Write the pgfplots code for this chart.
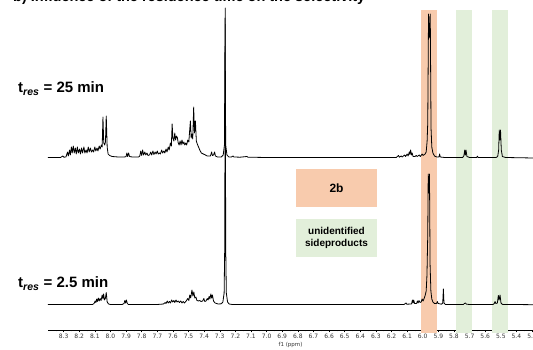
\documentclass[border=0pt]{standalone}
\usepackage{fontspec}
\setmainfont{Liberation Sans}
\newfontfamily\tickfont{DejaVu Sans}
\usepackage{pgfplots}
\pgfplotsset{compat=1.18}
\definecolor{bandor}{HTML}{F8CBAD}
\definecolor{bandgr}{HTML}{E2EFDA}
\begin{document}
\begin{tikzpicture}
% bottom spectrum axis (tres = 2.5 min) with the ppm axis
\begin{axis}[
  at={(290.5pt,180pt)}, anchor=center,
  scale only axis, width=485pt, height=320pt,
  xmin=5.294, xmax=8.40, ymin=-25, ymax=295,
  x dir=reverse,
  axis x line=bottom, axis y line=none,
  axis line style={-, line width=0.6pt},
  clip=false,
  xtick={5.3,5.4,5.5,5.6,5.7,5.8,5.9,6.0,6.1,6.2,6.3,6.4,6.5,6.6,6.7,6.8,6.9,7.0,7.1,7.2,7.3,7.4,7.5,7.6,7.7,7.8,7.9,8.0,8.1,8.2,8.3},
  minor xtick={5.35,5.45,5.55,5.65,5.75,5.85,5.95,6.05,6.15,6.25,6.35,6.45,6.55,6.65,6.75,6.85,6.95,7.05,7.15,7.25,7.35,7.45,7.55,7.65,7.75,7.85,7.95,8.05,8.15,8.25,8.35},
  tick align=outside,
  major tick length=2.5pt, minor tick length=1.5pt,
  tick style={line width=0.5pt, black},
  xticklabel={\pgfmathprintnumber[fixed,fixed zerofill,precision=1,assume math mode=true]{\tick}},
  xticklabel style={font=\tickfont\fontsize{6}{7}\selectfont, text=black!80, inner sep=1.5pt},
  xlabel={f1 (ppm)},
  xlabel style={font=\tickfont\fontsize{5.5}{6}\selectfont, text=black!80, inner sep=0pt, yshift=-2pt},
]
\addplot[fill=bandor, draw=none] coordinates {(6.011,-28) (5.911,-28) (5.911,295) (6.011,295)} -- cycle;
\addplot[fill=bandgr, draw=none] coordinates {(5.785,-28) (5.685,-28) (5.685,295) (5.785,295)} -- cycle;
\addplot[fill=bandgr, draw=none] coordinates {(5.555,-28) (5.455,-28) (5.455,295) (5.555,295)} -- cycle;
\addplot[black, line width=0.8pt, line join=round, mark=none] coordinates {
(8.40,0.5)(8.30,0.5)(8.115,0.5)(8.105,1.5)(8.098,4)(8.093,2.5)(8.088,6)(8.083,3.5)(8.078,7)(8.072,4)(8.066,6.5)(8.060,4.5)(8.053,10)(8.048,6)(8.044,11)(8.038,5)(8.032,7)(8.027,12.5)(8.021,3)(8.012,1)(8.00,0.5)
(7.925,0.5)(7.913,1.5)(7.908,4.5)(7.903,2)(7.898,5)(7.892,1.5)(7.885,0.5)(7.70,0.5)(7.66,1)(7.650,2.5)(7.644,1.5)(7.636,4)(7.630,2)(7.622,3.5)(7.616,2)(7.608,5)(7.602,3)(7.594,4.5)(7.588,2.5)(7.580,5)(7.574,3)(7.566,4)(7.558,2.5)(7.550,4)(7.542,2)(7.534,3.5)(7.526,2)(7.515,4)(7.505,6.5)(7.498,4.5)(7.492,10)(7.486,7)(7.478,15)(7.472,9)(7.466,13)(7.460,7)(7.453,8)(7.446,4.5)(7.436,4)(7.428,4.5)(7.420,3.5)(7.410,4)(7.402,6.5)(7.396,3.5)(7.388,4)(7.380,6.5)(7.375,5)(7.368,8.5)(7.363,6)(7.357,11)(7.352,7)(7.347,10)(7.340,4)(7.330,2)(7.31,1)(7.29,1.2)
(7.280,3)(7.272,12)(7.268,60)(7.265,297)(7.262,60)(7.258,12)(7.250,3)(7.24,1)(7.22,0.5)(7.00,0.5)(6.12,0.5)(6.107,2)(6.102,0.8)(6.072,1)(6.066,5)(6.062,2)(6.058,5)(6.052,1.5)(6.040,1.5)(6.034,4)(6.030,2)(6.024,4.5)(6.018,2.5)(6.010,3)(6.004,6)(5.998,4)(5.990,7)(5.984,10)(5.978,14)(5.973,30)(5.968,70)(5.965,131)(5.961,112)(5.957,131)(5.953,40)(5.948,14)(5.942,6)(5.935,3)(5.925,1.5)(5.912,1.5)(5.907,3.5)(5.902,1.5)(5.88,0.8)(5.872,2)(5.868,16)(5.864,2)(5.855,0.5)
(5.74,0.5)(5.733,1.5)(5.727,2)(5.720,0.8)(5.70,0.5)(5.55,0.5)(5.542,1.5)(5.537,3.5)(5.532,1.5)(5.522,2)(5.516,9.5)(5.511,5)(5.505,10)(5.499,2)(5.490,0.6)(5.294,0.3)
};
\end{axis}
% top spectrum axis (tres = 25 min)
\begin{axis}[
  at={(290.5pt,180pt)}, anchor=center,
  scale only axis, width=485pt, height=320pt,
  xmin=5.294, xmax=8.40, ymin=-172, ymax=148,
  x dir=reverse, hide axis, clip=false,
]
\addplot[black, line width=0.8pt, line join=round, mark=none] coordinates {
(8.40,0.5)(8.32,0.5)(8.305,2)(8.298,0.8)(8.285,1)(8.275,6)(8.270,2)(8.262,8)(8.257,3)(8.250,11)(8.245,5)(8.238,12)(8.232,5)(8.225,10)(8.219,4)(8.212,11)(8.206,5)(8.198,9)(8.192,4)(8.185,10)(8.179,5)(8.170,11)(8.164,5)(8.156,8)(8.150,5)(8.142,11)(8.136,6)(8.128,10)(8.122,6)(8.114,8)(8.108,6)(8.100,11)(8.094,7)(8.086,10)(8.080,7)(8.072,12)(8.066,9)(8.058,13)(8.053,11)(8.048,41)(8.043,15)(8.037,13)(8.032,16)(8.027,42)(8.021,11)(8.015,4)(8.005,2.5)(7.99,1.5)(7.95,1)(7.91,1)
(7.900,1.5)(7.895,5)(7.890,1.5)(7.884,5)(7.878,1.5)(7.86,1)(7.82,1)(7.812,2)(7.806,7)(7.800,2.5)(7.794,8)(7.788,3)(7.780,6)(7.774,3)(7.766,5)(7.760,2.5)(7.750,3)(7.742,6)(7.736,3)(7.728,7)(7.722,3.5)(7.714,6)(7.708,4)(7.700,7)(7.694,4)(7.686,5)(7.680,4)(7.672,8)(7.666,5)(7.658,7)(7.652,5)(7.644,9)(7.638,6)(7.630,11)(7.624,8)(7.616,15)(7.610,12)(7.605,34)(7.600,20)(7.594,17)(7.588,25)(7.583,18)(7.577,22)(7.571,20)(7.566,15)(7.560,13)(7.554,17)(7.548,13)(7.542,18)(7.536,14)(7.530,16)(7.524,13)(7.518,15)(7.512,13)(7.505,18)(7.498,16)(7.493,27)(7.488,37)(7.483,20)(7.478,24)(7.473,19)(7.467,51)(7.462,25)(7.456,37)(7.450,17)(7.444,14)(7.436,11)(7.428,8)(7.418,5)(7.405,4)(7.392,3)(7.380,2)(7.360,2)(7.352,6)(7.347,2.5)(7.340,3)(7.333,6)(7.328,2)(7.315,1)(7.29,1)
(7.278,3)(7.270,13)(7.266,140)(7.262,13)(7.254,3)(7.242,1)(7.225,1)(7.215,2)(7.210,1)(7.17,0.8)(7.125,1.5)(7.12,0.8)(7.00,0.5)(6.17,0.5)(6.155,2.5)(6.150,0.8)(6.138,2)(6.132,1)(6.116,3)(6.110,1.5)(6.100,4)(6.094,2)(6.086,6)(6.082,3.5)(6.078,8)(6.072,3)(6.068,5)(6.062,1.5)(6.050,1.5)(6.042,2.5)(6.036,1.5)(6.022,3)(6.016,1.5)(6.004,4)(5.998,2.5)(5.985,4)(5.978,6)(5.972,17)(5.968,35)(5.963,144)(5.958,120)(5.952,144)(5.947,30)(5.942,11)(5.935,5)(5.925,2)(5.91,1)(5.896,1)(5.892,4)(5.888,1)(5.86,0.5)
(5.745,0.5)(5.737,2)(5.731,8)(5.727,3)(5.723,8)(5.717,1.5)(5.70,0.5)(5.655,0.5)(5.650,1.8)(5.645,0.5)(5.53,0.5)(5.52,1.5)(5.514,8)(5.510,28)(5.506,18)(5.502,28)(5.497,8)(5.490,1.5)(5.47,0.5)(5.294,0)
};
\end{axis}
\node[anchor=base west, inner sep=0pt, font=\bfseries\fontsize{14.5}{16}\selectfont] at (13pt,348pt) {b) Influence of the residence time on the selectivity};
\node[anchor=base west, inner sep=0pt, font=\bfseries\fontsize{15}{17}\selectfont] at (18pt,257pt) {t\textsubscript{\itshape res} = 25 min};
\node[anchor=base west, inner sep=0pt, font=\bfseries\fontsize{15}{17}\selectfont] at (18pt,62pt) {t\textsubscript{\itshape res} = 2.5 min};
\node[fill=bandor, minimum width=81pt, minimum height=38pt, inner sep=0pt, font=\bfseries\fontsize{12}{14}\selectfont] at (336.5pt,162pt) {2b};
\node[fill=bandgr, minimum width=81pt, minimum height=38pt, inner sep=0pt, align=center, font=\bfseries\fontsize{10}{12}\selectfont] at (336.5pt,112pt) {unidentified\\sideproducts};
\pgfresetboundingbox
\useasboundingbox (0pt,0pt) rectangle (533pt,350pt);
\end{tikzpicture}
\end{document}
